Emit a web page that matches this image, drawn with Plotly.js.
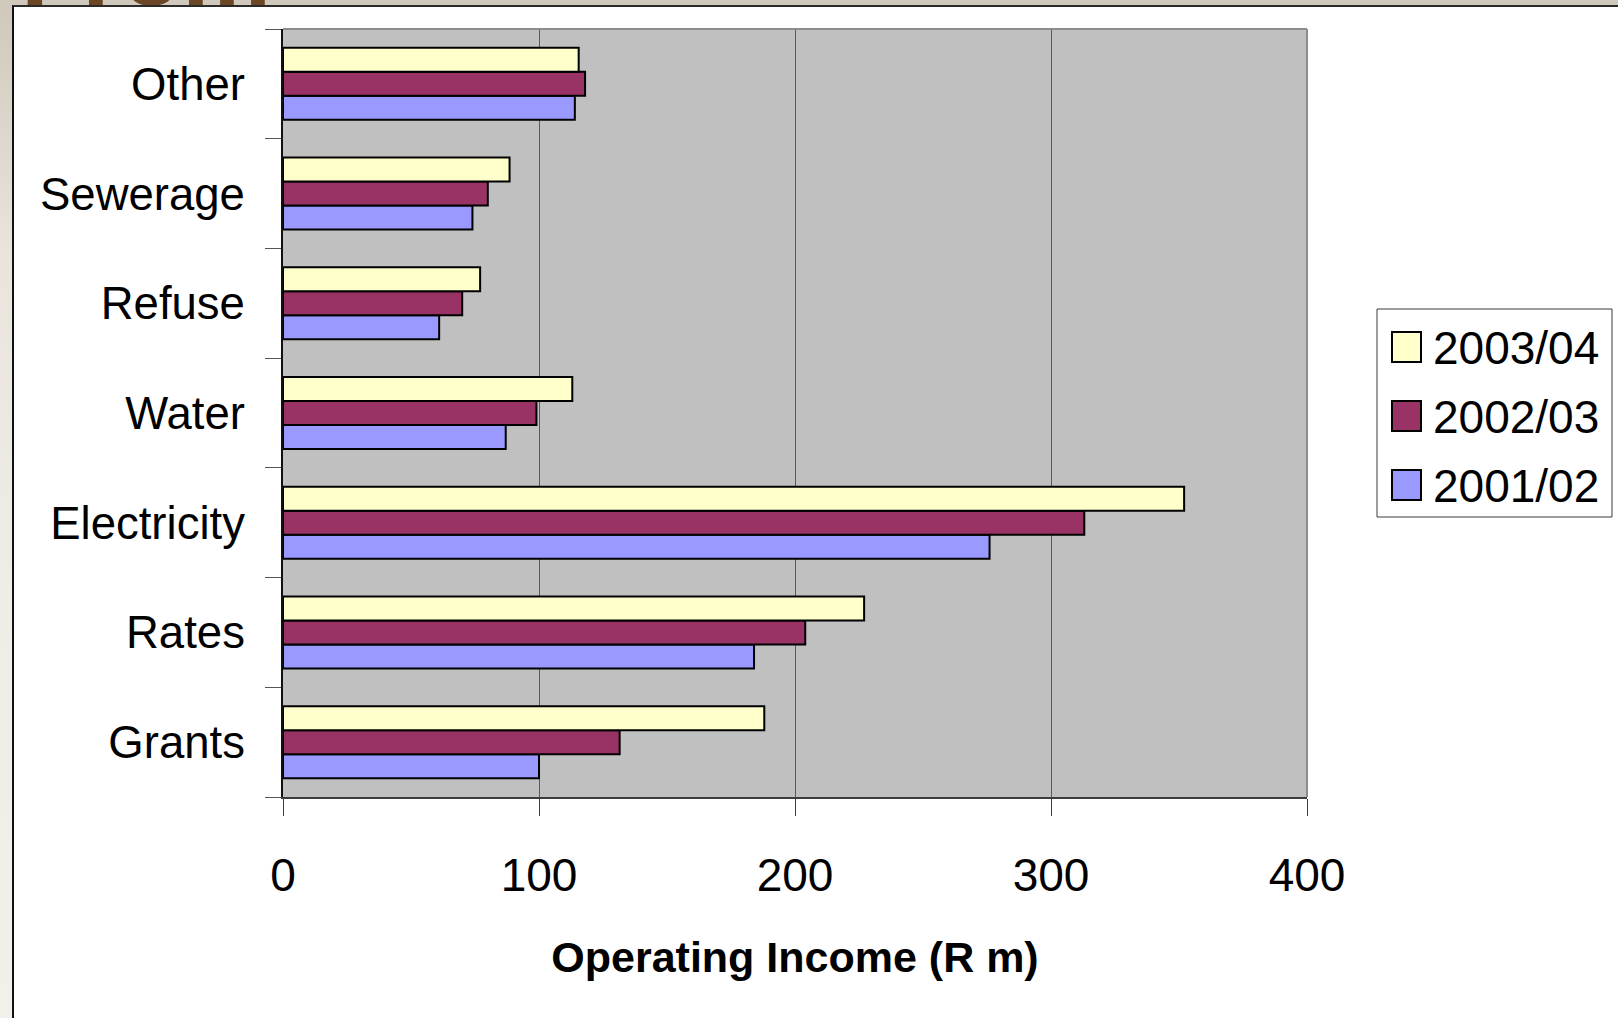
<!DOCTYPE html>
<html>
<head>
<meta charset="utf-8">
<script src="https://cdn.plot.ly/plotly-3.0.1.min.js"></script>
<style>
  html, body { margin: 0; padding: 0; }
  body {
    width: 1618px; height: 1018px; overflow: hidden; position: relative;
    background: linear-gradient(180deg, #cfc8bb 0%, #e9e5dd 25%, #f0ede7 60%, #f2f0eb 100%);
  }
  #heading {
    position: absolute; left: 21px; top: -80px;
    font: bold 100px "Liberation Sans", Arial, sans-serif; line-height: 100px;
    color: #6b4624; white-space: nowrap;
  }
  #panel {
    position: absolute; left: 12px; top: 5px; width: 1700px; height: 1100px;
    background: #ffffff; border-top: 2px solid #2a2a2a; border-left: 2px solid #111;
  }
  #chart { position: absolute; left: 0; top: 0; width: 1618px; height: 1018px; }
</style>
</head>
<body>
<div id="heading">From</div>
<div id="panel"></div>
<div id="chart"></div>
<script>
// Operating income by source (R m), three financial years
const categories = ['Grants', 'Rates', 'Electricity', 'Water', 'Refuse', 'Sewerage', 'Other'];
const income2001 = [100, 184, 276, 87, 61, 74, 114];
const income2002 = [131.5, 204, 313, 99, 70, 80, 118];
const income2003 = [188, 227, 352, 113, 77, 88.5, 115.5];
const seriesNames = ['2001/02', '2002/03', '2003/04'];
const seriesColors = ['#9999ff', '#993366', '#ffffcc'];
const xTicks = [0, 100, 200, 300, 400];

const FONT = '"Liberation Sans", Arial, sans-serif';
const seriesValues = [income2001, income2002, income2003];

const traces = seriesValues.map((vals, i) => ({
  type: 'bar',
  orientation: 'h',
  name: seriesNames[i],
  y: categories,
  x: vals,
  marker: { color: seriesColors[i], line: { color: '#000000', width: 2 } },
  showlegend: false,
  hoverinfo: 'x+name'
}));

// plot area in pixels
const W = 1618, H = 1018;
const L = 283, R = 1307, T = 29, B = 797;
const px = x => (x - L) / (R - L);
const py = y => (B - y) / (B - T);

// legend box, drawn as shapes + text, listing newest year first
const shapes = [
  { type: 'line', xref: 'paper', yref: 'paper', x0: 0, x1: 1, y0: 1, y1: 1,
    line: { color: '#8c8c8c', width: 2 }, layer: 'above' },
  { type: 'line', xref: 'paper', yref: 'paper', x0: 1, x1: 1, y0: 0, y1: 1,
    line: { color: '#8c8c8c', width: 2 }, layer: 'above' },
  { type: 'rect', xref: 'paper', yref: 'paper',
    x0: px(1377), x1: px(1612), y0: py(517), y1: py(309),
    line: { color: '#3a3a3a', width: 1 }, fillcolor: '#ffffff', layer: 'above' }
];
const annotations = [];
const legendOrder = [2, 1, 0];
const itemCenters = [347, 416, 485];
legendOrder.forEach((s, k) => {
  const cy = itemCenters[k];
  shapes.push({ type: 'rect', xref: 'paper', yref: 'paper',
    x0: px(1392), x1: px(1421), y0: py(cy + 15), y1: py(cy - 15),
    line: { color: '#000000', width: 2 }, fillcolor: seriesColors[s], layer: 'above' });
  annotations.push({ xref: 'paper', yref: 'paper', x: px(1431), y: py(cy + 1),
    xanchor: 'left', yanchor: 'middle', showarrow: false, text: seriesNames[s],
    font: { family: FONT, size: 46, color: '#000000' } });
});

const layout = {
  width: W, height: H,
  margin: { l: L, r: W - R, t: T, b: H - B, pad: 0 },
  paper_bgcolor: 'rgba(0,0,0,0)',
  plot_bgcolor: '#c0c0c0',
  barmode: 'group',
  bargap: 0.344,
  bargroupgap: 0,
  showlegend: false,
  font: { family: FONT, color: '#000000' },
  xaxis: {
    range: [0, 400],
    tickvals: xTicks,
    ticktext: xTicks.map(String),
    showgrid: true, gridcolor: '#5a5a5a', gridwidth: 1,
    zeroline: false,
    showline: true, linecolor: '#3c3c3c', linewidth: 2,
    ticks: 'outside', ticklen: 17, tickcolor: '#3c3c3c', tickwidth: 1,
    tickfont: { family: FONT, size: 46, color: '#000000' },
    ticklabelstandoff: 20,
    title: { text: '<b>Operating Income (R m)</b>', standoff: 42,
             font: { family: FONT, size: 43, color: '#000000' } },
    fixedrange: true
  },
  yaxis: {
    type: 'category',
    categoryorder: 'array', categoryarray: categories,
    showgrid: false, zeroline: false,
    showline: true, linecolor: '#111111', linewidth: 2,
    ticks: 'outside', tickson: 'boundaries', ticklen: 16, tickcolor: '#555555', tickwidth: 1,
    tickfont: { family: FONT, size: 45.5, color: '#000000' },
    ticklabelstandoff: 27,
    fixedrange: true
  },
  shapes: shapes,
  annotations: annotations
};

Plotly.newPlot('chart', traces, layout, { displayModeBar: false, staticPlot: true });
</script>
</body>
</html>
